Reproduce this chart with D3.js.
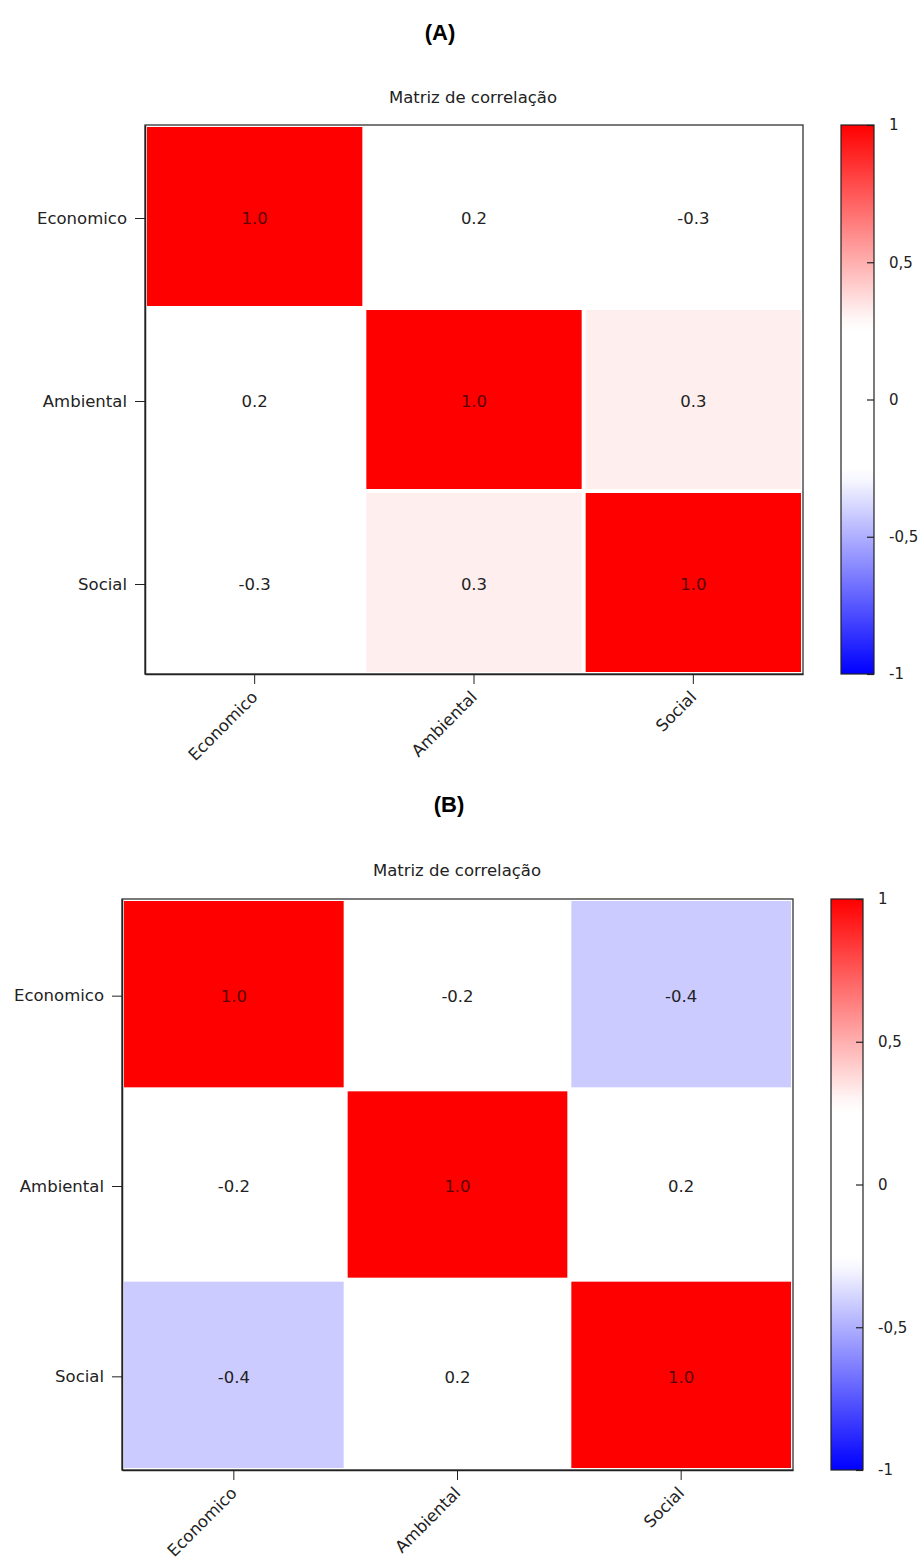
<!DOCTYPE html>
<html>
<head>
<meta charset="utf-8">
<script src="https://cdn.jsdelivr.net/npm/d3@7"></script>
<style>
  body { margin: 0; background: #fff; }
  svg { display: block; }
</style>
</head>
<body>
<svg id="chart" width="921" height="1558"></svg>
<script>
// ---- data ----
const categories = ["Economico", "Ambiental", "Social"];
const matrixA = [
  [1.0, 0.2, -0.26],
  [0.2, 1.0, 0.32],
  [-0.26, 0.32, 1.0]
];
const matrixB = [
  [1.0, -0.2, -0.42],
  [-0.2, 1.0, 0.2],
  [-0.42, 0.2, 1.0]
];
const colorTicks = [1, 0.5, 0, -0.5, -1];
const panelTitles = ["(A)", "(B)"];
const chartTitle = "Matriz de correlação";

// ---- color scale ----
const color = d3.scaleLinear()
  .domain([-1, -0.27, 0.27, 1])
  .range(["#0000ff", "#ffffff", "#ffffff", "#ff0000"])
  .clamp(true);

const svg = d3.select("#chart");
const fmtComma = v => String(v).replace(".", ",");
const FONT = "DejaVu Sans, Verdana, sans-serif";

function drawPanel(cfg, matrix, idx) {
  const g = svg.append("g");
  // panel label
  g.append("text")
    .attr("x", cfg.labelX).attr("y", cfg.labelY)
    .attr("text-anchor", "middle")
    .attr("font-family", "Liberation Sans, Arial, sans-serif")
    .attr("font-weight", "bold")
    .attr("font-size", 22)
    .attr("fill", "#000")
    .text(panelTitles[idx]);
  // chart title
  g.append("text")
    .attr("x", cfg.titleX).attr("y", cfg.titleY)
    .attr("text-anchor", "middle")
    .attr("font-family", FONT)
    .attr("font-size", 16.5)
    .attr("fill", "#222")
    .text(chartTitle);

  const x = d3.scaleBand().domain(categories).range([cfg.left, cfg.right]);
  const y = d3.scaleBand().domain(categories).range([cfg.top, cfg.bottom]);

  const cells = [];
  matrix.forEach((row, i) => row.forEach((v, j) => cells.push({ r: categories[i], c: categories[j], v })));

  const inset = 2;
  g.selectAll("rect.cell").data(cells).enter().append("rect")
    .attr("class", "cell")
    .attr("x", d => x(d.c) + inset)
    .attr("y", d => y(d.r) + inset)
    .attr("width", x.bandwidth() - 2 * inset)
    .attr("height", y.bandwidth() - 2 * inset)
    .attr("fill", d => color(d.v));

  g.selectAll("text.val").data(cells).enter().append("text")
    .attr("class", "val")
    .attr("x", d => x(d.c) + x.bandwidth() / 2)
    .attr("y", d => y(d.r) + y.bandwidth() / 2 + 2)
    .attr("dy", "0.35em")
    .attr("text-anchor", "middle")
    .attr("font-family", FONT)
    .attr("font-size", 16.5)
    .attr("fill", d => d.v > 0.9 ? "#5a0000" : "#222")
    .text(d => d.v.toFixed(1));

  // frame
  g.append("rect")
    .attr("x", cfg.left).attr("y", cfg.top)
    .attr("width", cfg.right - cfg.left).attr("height", cfg.bottom - cfg.top)
    .attr("fill", "none").attr("stroke", "#333").attr("stroke-width", 1.3);

  // axes
  const yAxis = d3.axisLeft(y).tickSizeInner(10).tickSizeOuter(0).tickPadding(8);
  const ya = g.append("g").attr("transform", `translate(${cfg.left},2)`).call(yAxis);
  ya.select(".domain").attr("stroke", "#222").attr("stroke-width", 1.5).attr("transform", "translate(0,-2)");
  ya.selectAll(".tick line").attr("stroke", "#222");
  ya.selectAll(".tick text")
    .attr("font-family", FONT)
    .attr("font-size", 16.5).attr("fill", "#222");

  const xAxis = d3.axisBottom(x).tickSizeInner(10).tickSizeOuter(0).tickPadding(4);
  const xa = g.append("g").attr("transform", `translate(0,${cfg.bottom})`).call(xAxis);
  xa.select(".domain").attr("stroke", "#222").attr("stroke-width", 1.5);
  xa.selectAll(".tick line").attr("stroke", "#222");
  xa.selectAll(".tick text")
    .attr("font-family", FONT)
    .attr("font-size", 16.5).attr("fill", "#222")
    .attr("text-anchor", "end")
    .attr("x", 0).attr("y", 0)
    .attr("dy", "0.35em")
    .attr("transform", "translate(0,20) rotate(-45)");

  // colorbar
  const cb = d3.scaleLinear().domain([1, -1]).range([cfg.top, cfg.bottom]);
  const gradId = "grad" + idx;
  const grad = svg.append("defs").append("linearGradient")
    .attr("id", gradId).attr("x1", 0).attr("y1", 0).attr("x2", 0).attr("y2", 1);
  const stops = d3.range(0, 41).map(k => 1 - k / 20);
  grad.selectAll("stop").data(stops).enter().append("stop")
    .attr("offset", (d, k) => (k / 40 * 100) + "%")
    .attr("stop-color", d => color(d));
  g.append("rect")
    .attr("x", cfg.cbLeft).attr("y", cfg.top)
    .attr("width", cfg.cbWidth).attr("height", cfg.bottom - cfg.top)
    .attr("fill", `url(#${gradId})`)
    .attr("stroke", "#222").attr("stroke-width", 1.2);
  const cbAxis = d3.axisRight(cb).tickValues(colorTicks).tickSizeInner(-7).tickSizeOuter(0).tickPadding(15).tickFormat(fmtComma);
  const ca = g.append("g").attr("transform", `translate(${cfg.cbLeft + cfg.cbWidth},0)`).call(cbAxis);
  ca.select(".domain").remove();
  ca.selectAll(".tick line").attr("stroke", "#222").attr("stroke-width", 1.2);
  ca.selectAll(".tick text")
    .attr("font-family", FONT)
    .attr("font-size", 15).attr("fill", "#222");
}

const panels = [
  { labelX: 440, labelY: 40, titleX: 473, titleY: 103, left: 145, right: 803, top: 125, bottom: 674, cbLeft: 841, cbWidth: 33 },
  { labelX: 449, labelY: 812, titleX: 457, titleY: 876, left: 122, right: 793, top: 899, bottom: 1470, cbLeft: 831, cbWidth: 32 }
];
drawPanel(panels[0], matrixA, 0);
drawPanel(panels[1], matrixB, 1);
</script>
</body>
</html>
